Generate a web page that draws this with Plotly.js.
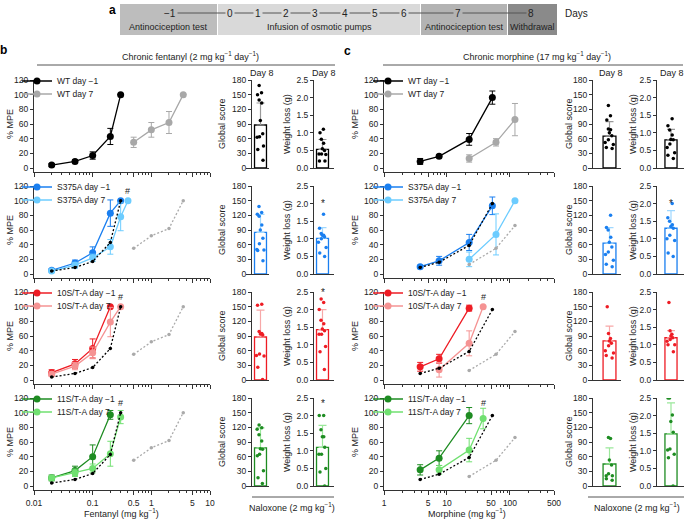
<!DOCTYPE html>
<html>
<head>
<meta charset="utf-8">
<script src="https://cdn.plot.ly/plotly-3.0.1.min.js"></script>
<style>html,body{margin:0;padding:0;background:#fff}#chart{width:685px;height:519px}</style>
</head>
<body>
<div id="chart"></div>
<script>
// ---------- data ----------
const groups = ['WT', 'S375A', '10S/T-A', '11S/T-A'];

// Fentanyl cumulative doses (mg/kg) and % MPE (mean, SEM)
const fentPreX = [[0.02, 0.05, 0.1, 0.2, 0.3], [0.02, 0.05, 0.1, 0.2, 0.3], [0.02, 0.05, 0.1, 0.2], [0.02, 0.05, 0.1, 0.2]];
const fentPreY = [[4, 9, 17, 43, 100], [5, 15, 29, 83, 100], [10, 22, 43, 100], [11, 21, 40, 97]];
const fentPreE = [[2, 2, 5, 11, 0], [2, 4, 8, 18, 0], [4, 6, 13, 0], [4, 6, 16, 6]];
const fentPostX = [[0.5, 1, 2, 3.5], [0.02, 0.05, 0.1, 0.2, 0.3, 0.4], [0.02, 0.05, 0.1, 0.2, 0.3], [0.02, 0.05, 0.1, 0.2, 0.3]];
const fentPostY = [[35, 52, 62, 100], [4, 12, 22, 37, 78, 100], [8, 19, 37, 79, 100], [11, 18, 24, 44, 94]];
const fentPostE = [[7, 10, 15, 0], [1, 4, 5, 10, 19, 0], [3, 5, 8, 20, 0], [3, 5, 6, 17, 9]];

// Morphine cumulative doses (mg/kg) and % MPE
const morPreX = [[3.75, 7.5, 22.5, 52.5], [3.75, 7.5, 22.5, 52.5], [3.75, 7.5, 22.5], [3.75, 7.5, 22.5]];
const morPreY = [[9, 16, 39, 96], [10, 18, 43, 93], [18, 29, 98], [22, 38, 96]];
const morPreE = [[4, 2, 8, 9], [2, 6, 11, 12], [6, 6, 4], [7, 10, 11]];
const morPostX = [[22.5, 60, 120], [22.5, 60, 120], [7.5, 22.5, 37.5], [7.5, 22.5, 37.5]];
const morPostY = [[13, 35, 66], [20, 54, 100], [14, 50, 100], [22, 49, 92]];
const morPostE = [[5, 5, 22], [10, 28, 0], [10, 17, 0], [6, 16, 14]];

// Naloxone-precipitated withdrawal, day 8 (mean, SD, individual mice)
const fentGlobalMean = [88, 85, 88, 78];
const fentGlobalSD = [45, 37, 55, 41];
const fentGlobalPts = [
  [169, 154, 150, 139, 133, 97, 70, 64, 63, 45, 38, 16],
  [138, 126, 122, 118, 100, 90, 73, 62, 50, 49, 48, 27],
  [155, 153, 99, 95, 94, 92, 53, 50, 49, 26, 1],
  [125, 119, 116, 105, 92, 76, 75, 65, 62, 31, 17, 5]];
const fentWeightMean = [0.53, 1.01, 1.43, 1.1];
const fentWeightSD = [0.28, 0.31, 0.57, 0.62];
const fentWeightPts = [
  [1.1, 1.0, 0.82, 0.7, 0.55, 0.5, 0.4, 0.4, 0.38, 0.2, 0.2],
  [1.7, 1.3, 1.15, 1.1, 1.1, 1.05, 1.0, 0.9, 0.75, 0.6, 0.5],
  [2.3, 2.2, 2.0, 1.7, 1.6, 1.45, 1.4, 1.3, 1.3, 0.95, 0.8, 0.3],
  [2.0, 2.0, 1.6, 1.4, 1.4, 1.1, 0.9, 0.9, 0.5, 0.4, 0.0]];
const morGlobalMean = [65, 63, 80, 45];
const morGlobalSD = [30, 32, 30, 33];
const morGlobalPts = [
  [128, 107, 98, 80, 78, 72, 66, 58, 52, 48, 42, 40],
  [120, 95, 90, 75, 65, 55, 45, 40, 28, 20, 15],
  [150, 95, 85, 80, 75, 70, 60, 55, 50, 45],
  [99, 97, 53, 43, 25, 21, 21, 15, 12]];
const morWeightMean = [0.8, 1.3, 1.2, 1.48];
const morWeightSD = [0.3, 0.5, 0.2, 0.88];
const morWeightPts = [
  [1.4, 1.2, 1.08, 0.94, 0.81, 0.8, 0.68, 0.58, 0.43, 0.36, 0.27],
  [2.0, 1.6, 1.5, 1.4, 1.35, 1.3, 1.1, 1.0, 0.95, 0.6, 0.5],
  [2.2, 1.4, 1.3, 1.25, 1.2, 1.15, 1.1, 1.0, 1.0, 0.8],
  [2.5, 2.5, 2.02, 1.83, 1.53, 1.05, 1.02, 0.9, 0.8, 0.0]];

// significance marks: x of '#' on the dose axis, y of '*' on weight loss
const fentHashX = [null, 0.4, 0.3, 0.3];
const morHashX = [null, null, 37.5, 37.5];
const fentStarY = [null, 2.0, 2.5, 2.35];
const morStarY = [null, 2.0, null, 2.7];

const fentTicks = [0.01, 0.1, 0.5, 1, 5, 10];
const morTicks = [1, 5, 10, 50, 100, 500];

// ---------- styling ----------
const darkCol = ['#000000', '#1a7ff0', '#ee1c24', '#1e8c22'];
const lightCol = ['#a8a8a8', '#6cccff', '#f59393', '#70e070'];
const barErrCol = ['#999999', '#9fd8ff', '#f7a8a8', '#9be89b'];
const FONT = 'Liberation Sans, Arial, Helvetica, sans-serif';
const AX = '#333333';

const W = 685, H = 519;
const fx = p => p / W;
const fy = p => 1 - p / H;
const rowTop = [80, 186, 292, 398];
const plotH = 88;

function minorLog(lo, hi) {
  let out = [];
  for (let d = lo; d < hi; d++) {
    for (let k = 2; k <= 9; k++) out.push(k * Math.pow(10, d));
  }
  return out;
}

const panels = [
  { pre: [fentPreX, fentPreY, fentPreE], post: [fentPostX, fentPostY, fentPostE],
    gMean: fentGlobalMean, gSD: fentGlobalSD, gPts: fentGlobalPts,
    wMean: fentWeightMean, wSD: fentWeightSD, wPts: fentWeightPts,
    hashX: fentHashX, starY: fentStarY, ticks: fentTicks, minor: minorLog(-2, 1),
    lineDom: [34, 210], lineRange: [-2, 1],
    gDom: [246, 269], gAxis: 251, gCenter: 260.5, gWidth: 0.52,
    wDom: [311, 334], wAxis: 313, wCenter: 322.5, wWidth: 0.52,
    legX: 17, mpeX: 10, gTitleX: 222, wTitleX: 287 },
  { pre: [morPreX, morPreY, morPreE], post: [morPostX, morPostY, morPostE],
    gMean: morGlobalMean, gSD: morGlobalSD, gPts: morGlobalPts,
    wMean: morWeightMean, wSD: morWeightSD, wPts: morWeightPts,
    hashX: morHashX, starY: morStarY, ticks: morTicks, minor: minorLog(0, 3).filter(v => v < 500),
    lineDom: [384, 554], lineRange: [0, Math.log10(500)],
    gDom: [588, 621], gAxis: 592, gCenter: 609.5, gWidth: 0.39,
    wDom: [653, 684], wAxis: 656, wCenter: 671, wWidth: 0.39,
    legX: 368, mpeX: 355, gTitleX: 569, wTitleX: 633 }
];

let traces = [];
let layout = {
  width: W, height: H,
  margin: { l: 0, r: 0, t: 0, b: 0 },
  paper_bgcolor: '#fff', plot_bgcolor: 'rgba(0,0,0,0)',
  font: { family: FONT, size: 9, color: '#222' },
  showlegend: true,
  shapes: [], annotations: []
};

let axN = 0, legN = 0;
function nextAxis() { axN++; return axN === 1 ? '' : String(axN); }
function nextLegend() { legN++; return legN === 1 ? 'legend' : 'legend' + legN; }

function ann(text, x, y, opts) {
  layout.annotations.push(Object.assign({
    text: text, x: fx(x), y: fy(y), xref: 'paper', yref: 'paper',
    xanchor: 'center', yanchor: 'middle',
    showarrow: false, font: { family: FONT, size: 9, color: '#222' }
  }, opts || {}));
}

panels.forEach((P, pi) => {
  for (let r = 0; r < 4; r++) {
    const top = rowTop[r], zero = top + plotH;
    // ----- dose-response subplot -----
    const s = nextAxis();
    const xa = 'x' + s, ya = 'y' + s;
    layout['xaxis' + s] = {
      type: 'log', range: P.lineRange, domain: [fx(P.lineDom[0]), fx(P.lineDom[1])],
      anchor: ya, showline: true, linecolor: AX, linewidth: 1, showgrid: false, zeroline: false,
      ticks: 'outside', ticklen: 4, tickcolor: AX, tickvals: P.ticks, ticktext: P.ticks.map(String),
      showticklabels: r === 3, tickfont: { size: 8.5 },
      minor: { ticks: 'outside', ticklen: 2, tickcolor: AX, tickvals: P.minor, showgrid: false }
    };
    layout['yaxis' + s] = {
      range: [-6, 120], domain: [fy(zero + 4.4), fy(top)], anchor: xa,
      showline: true, linecolor: AX, showgrid: false, zeroline: false,
      ticks: 'outside', ticklen: 3, tickcolor: AX, tickvals: [0, 20, 40, 60, 80, 100, 120],
      tickfont: { size: 8.5 }
    };
    const lPre = nextLegend(), lPost = nextLegend();
    const names = [groups[r] + ' day −1', groups[r] + ' day 7'];
    traces.push({
      type: 'scatter', mode: 'lines+markers', x: P.pre[0][r], y: P.pre[1][r], xaxis: xa, yaxis: ya,
      name: names[0], legend: lPre,
      line: { color: darkCol[r], width: 1.3 }, marker: { color: darkCol[r], size: 7 },
      error_y: { type: 'data', array: P.pre[2][r], color: darkCol[r], thickness: 1, width: 3 }
    });
    traces.push({
      type: 'scatter', mode: 'lines+markers', x: P.post[0][r], y: P.post[1][r], xaxis: xa, yaxis: ya,
      name: names[1], legend: lPost,
      line: { color: lightCol[r], width: 1.3 }, marker: { color: lightCol[r], size: 7 },
      error_y: { type: 'data', array: P.post[2][r], color: lightCol[r], thickness: 1, width: 3 }
    });
    if (r > 0) {
      // WT reference curves
      traces.push({
        type: 'scatter', mode: 'lines+markers', x: P.pre[0][0], y: P.pre[1][0], xaxis: xa, yaxis: ya,
        showlegend: false, line: { color: '#000', width: 1.3, dash: '2px,2px' }, marker: { color: '#000', size: 3.5 }
      });
      traces.push({
        type: 'scatter', mode: 'lines+markers', x: P.post[0][0], y: P.post[1][0], xaxis: xa, yaxis: ya,
        showlegend: false, line: { color: '#aaaaaa', width: 1.3, dash: '2px,2px' }, marker: { color: '#aaaaaa', size: 3.5 }
      });
    }
    [[lPre, top + 1], [lPost, top + 14]].forEach(([lg, yy]) => {
      layout[lg] = {
        x: fx(P.legX), y: fy(yy), xanchor: 'left', yanchor: 'middle',
        bgcolor: 'rgba(0,0,0,0)', borderwidth: 0, font: { family: FONT, size: 8.5, color: '#222' },
        itemclick: false, itemdoubleclick: false
      };
    });
    if (P.hashX[r] !== null) {
      layout.annotations.push({ text: '#', x: Math.log10(P.hashX[r]), y: 113, xref: xa, yref: ya,
        xanchor: 'center', yanchor: 'middle',
        showarrow: false, font: { family: FONT, size: 9, color: '#222' } });
    }
    ann('% MPE', P.mpeX, top + plotH / 2, { textangle: -90 });

    // ----- bar subplots: global score, weight loss -----
    [['g', 180, [0, 30, 60, 90, 120, 150, 180], '', 'Global score', P.gTitleX],
     ['w', 2.5, [0, 0.5, 1, 1.5, 2, 2.5], '.1f', 'Weight loss (g)', P.wTitleX]].forEach(([k, ymax, tv, tf, title, tx]) => {
      const b = nextAxis();
      const bx = 'x' + b, by = 'y' + b;
      const dom = P[k + 'Dom'];
      const a = -(P[k + 'Center'] - dom[0]) / (dom[1] - dom[0]);
      layout['xaxis' + b] = {
        range: [a, a + 1], domain: [fx(dom[0]), fx(dom[1])], anchor: by,
        showline: true, linecolor: AX, showgrid: false, zeroline: false, ticks: '', showticklabels: false
      };
      layout['yaxis' + b] = {
        range: [0, ymax], domain: [fy(zero), fy(top)], anchor: 'free', position: fx(P[k + 'Axis']),
        showline: true, linecolor: AX, showgrid: false, zeroline: false,
        ticks: 'outside', ticklen: 3, tickcolor: AX, tickvals: tv, tickformat: tf, tickfont: { size: 8.5 }
      };
      const mean = P[k + 'Mean'][r], sd = P[k + 'SD'][r], pts = P[k + 'Pts'][r];
      const w = P[k + 'Width'];
      traces.push({
        type: 'bar', x: [0], y: [mean], width: w, xaxis: bx, yaxis: by, showlegend: false,
        marker: { color: 'rgba(255,255,255,0)', line: { color: darkCol[r], width: 1.3 } },
        error_y: { type: 'data', symmetric: false, array: [sd], arrayminus: [0], color: barErrCol[r], thickness: 1.2, width: 4 }
      });
      traces.push({
        type: 'box', y: pts, x0: 0, xaxis: bx, yaxis: by, showlegend: false,
        boxpoints: 'all', jitter: 1, pointpos: 0, width: w * 0.8,
        marker: { color: darkCol[r], size: 3.5 },
        line: { color: 'rgba(0,0,0,0)', width: 0 }, fillcolor: 'rgba(0,0,0,0)'
      });
      ann(title, tx, top + plotH / 2, { textangle: -90 });
      if (k === 'w' && P.starY[r] !== null) {
        layout.annotations.push({ text: '*', x: 0, y: P.starY[r], xref: bx, yref: by,
          xanchor: 'center', yanchor: 'middle',
          showarrow: false, font: { family: FONT, size: 10, color: '#222' } });
      }
      if (r === 0) ann('Day 8', P[k + 'Center'] + 1, top - 7);
    });
  }
});

// ---------- headers, footers, panel letters ----------
ann('<b>b</b>', 4, 50, { font: { family: FONT, size: 12, color: '#000' } });
ann('<b>c</b>', 347, 51, { font: { family: FONT, size: 12, color: '#000' } });
ann('Chronic fentanyl (2 mg kg<sup>−1</sup> day<sup>−1</sup>)', 190, 56);
ann('Chronic morphine (17 mg kg<sup>−1</sup> day<sup>−1</sup>)', 537, 56);
layout.shapes.push({ type: 'line', xref: 'paper', yref: 'paper', x0: fx(37), x1: fx(335), y0: fy(65), y1: fy(65), line: { color: '#555', width: 1 } });
layout.shapes.push({ type: 'line', xref: 'paper', yref: 'paper', x0: fx(383), x1: fx(683), y0: fy(65), y1: fy(65), line: { color: '#555', width: 1 } });

ann('Fentanyl (mg kg<sup>−1</sup>)', 121, 513);
ann('Morphine (mg kg<sup>−1</sup>)', 467, 513);
ann('Naloxone (2 mg kg<sup>−1</sup>)', 292, 507);
ann('Naloxone (2 mg kg<sup>−1</sup>)', 637, 507);
layout.shapes.push({ type: 'line', xref: 'paper', yref: 'paper', x0: fx(252), x1: fx(334), y0: fy(497), y1: fy(497), line: { color: '#555', width: 1 } });
layout.shapes.push({ type: 'line', xref: 'paper', yref: 'paper', x0: fx(588), x1: fx(684), y0: fy(497), y1: fy(497), line: { color: '#555', width: 1 } });

// ---------- timeline (a) ----------
const tlDays = ['−1', '0', '1', '2', '3', '4', '5', '6', '7', '8'];
const tlDayX = [170, 230, 258, 286, 315, 345, 375, 404, 458, 531];
const tlBoxes = [[120, 217, '#bdbdbd', 'Antinociception test'], [218, 420, '#d9d9d9', 'Infusion of osmotic pumps'],
                 [421, 507, '#b3b3b3', 'Antinociception test'], [508, 557, '#8a8a8a', 'Withdrawal']];
tlBoxes.forEach(([x0, x1, c, lab]) => {
  layout.shapes.push({ type: 'rect', xref: 'paper', yref: 'paper', x0: fx(x0), x1: fx(x1), y0: fy(35), y1: fy(4), fillcolor: c, line: { width: 0 }, layer: 'below' });
  ann(lab, (x0 + x1) / 2, 27);
});
layout.shapes.push({ type: 'line', xref: 'paper', yref: 'paper', x0: fx(172), x1: fx(527), y0: fy(13), y1: fy(13), line: { color: '#555', width: 1 } });
tlDays.forEach((d, i) => {
  const x = tlDayX[i];
  const box = tlBoxes.find(bx => x >= bx[0] && x <= bx[1]);
  ann(d, x, 13, { bgcolor: box ? box[2] : '#fff', borderpad: 1, font: { family: FONT, size: 10, color: '#222' } });
});
ann('Days', 563, 13, { xanchor: 'left', font: { family: FONT, size: 10, color: '#222' } });
ann('<b>a</b>', 112, 10, { font: { family: FONT, size: 12, color: '#000' } });

Plotly.newPlot('chart', traces, layout, { staticPlot: true });
</script>
</body>
</html>
